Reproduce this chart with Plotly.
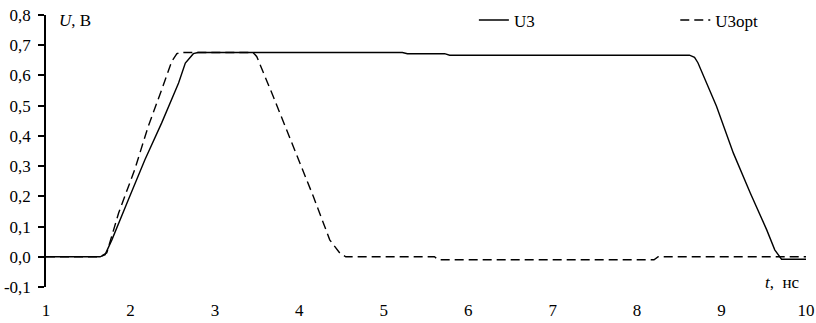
import plotly.graph_objects as go

# ---- data ----
t_u3 = [1.0, 1.64, 1.70, 1.78, 1.975, 2.17, 2.37, 2.57, 2.65, 2.745, 2.8,
        5.22, 5.28, 5.72, 5.78, 8.62, 8.68, 8.72, 8.94, 9.14, 9.34, 9.535,
        9.63, 9.71, 10.0]
u3 = [0.0, 0.0, 0.007, 0.056, 0.189, 0.32, 0.443, 0.575, 0.641, 0.672, 0.676,
      0.676, 0.672, 0.672, 0.667, 0.667, 0.66, 0.642, 0.498, 0.343, 0.211, 0.089,
      0.023, -0.008, -0.008]

t_u3opt = [1.0, 1.64, 1.72, 1.86, 2.05, 2.21, 2.37, 2.49, 2.55, 2.6, 3.45,
           3.495, 3.69, 3.93, 4.165, 4.36, 4.48, 4.55, 5.6, 5.65, 8.2, 8.25, 10.0]
u3opt = [0.0, 0.0, 0.013, 0.145, 0.288, 0.431, 0.553, 0.647, 0.672, 0.676, 0.676,
         0.663, 0.531, 0.365, 0.2, 0.056, 0.012, 0.0, 0.0, -0.01, -0.01, 0.0, 0.0]

x_ticks = [1, 2, 3, 4, 5, 6, 7, 8, 9, 10]
y_ticks = [-0.1, 0.0, 0.1, 0.2, 0.3, 0.4, 0.5, 0.6, 0.7, 0.8]
y_ticktext = ["-0,1", "0,0", "0,1", "0,2", "0,3", "0,4", "0,5", "0,6", "0,7", "0,8"]

FONT = "Liberation Serif, Times New Roman, DejaVu Serif, serif"
FS = 17
TXT = dict(family=FONT, size=FS, color="black")

W, H = 816, 323
L, R, T, B = 46, 10, 15, 36
fig = go.Figure()
fig.add_trace(go.Scatter(x=t_u3, y=u3, mode="lines", name="U3", legend="legend",
                         line=dict(color="black", width=1.4)))
fig.add_trace(go.Scatter(x=t_u3opt, y=u3opt, mode="lines", name="U3opt", legend="legend2",
                         line=dict(color="black", width=1.4, dash="9px,5px")))

leg_common = dict(orientation="h", yanchor="middle", bgcolor="rgba(0,0,0,0)",
                  borderwidth=0, font=TXT)

fig.update_layout(
    width=W, height=H,
    margin=dict(l=L, r=R, t=T, b=B, autoexpand=False),
    plot_bgcolor="white", paper_bgcolor="white",
    font=TXT,
    showlegend=True,
    legend=dict(x=0.563, xanchor="left", y=0.98, **leg_common),
    legend2=dict(x=0.828, xanchor="left", y=0.98, **leg_common),
    xaxis=dict(range=[1, 10], tickvals=x_ticks, ticktext=[str(v) for v in x_ticks],
               showline=False, ticks="", showgrid=False, zeroline=False, automargin=False,
               ticklabelstandoff=11, ticklabeloverflow="allow", tickfont=TXT),
    xaxis2=dict(range=[1, 10], overlaying="x", anchor="free", position=1/9, side="bottom",
                showline=True, linecolor="black", linewidth=1.5, automargin=False,
                ticks="outside", ticklen=5, tickwidth=1.5, tickcolor="black",
                tick0=1, dtick=0.5, showticklabels=False, showgrid=False, zeroline=False),
    yaxis=dict(range=[-0.1, 0.8], tickvals=y_ticks, ticktext=y_ticktext,
               showline=True, linecolor="black", linewidth=1.5, automargin=False,
               ticks="outside", ticklen=6, tickwidth=1.5, tickcolor="black",
               showgrid=False, zeroline=False, ticklabelstandoff=4,
               ticklabeloverflow="allow", tickfont=TXT),
    annotations=[
        dict(text="<i>U</i>, В", xref="paper", yref="paper", x=0.0145, y=0.978,
             xanchor="left", yanchor="middle", showarrow=False, font=TXT),
        dict(text="<i>t</i>,  нс", xref="paper", yref="paper", x=0.9947, y=0.018,
             xanchor="right", yanchor="middle", showarrow=False, font=TXT),
    ],
)

fig.write_html("out.html", config={"displayModeBar": False},
               post_script="document.body.style.margin='0';document.body.style.padding='0';")
